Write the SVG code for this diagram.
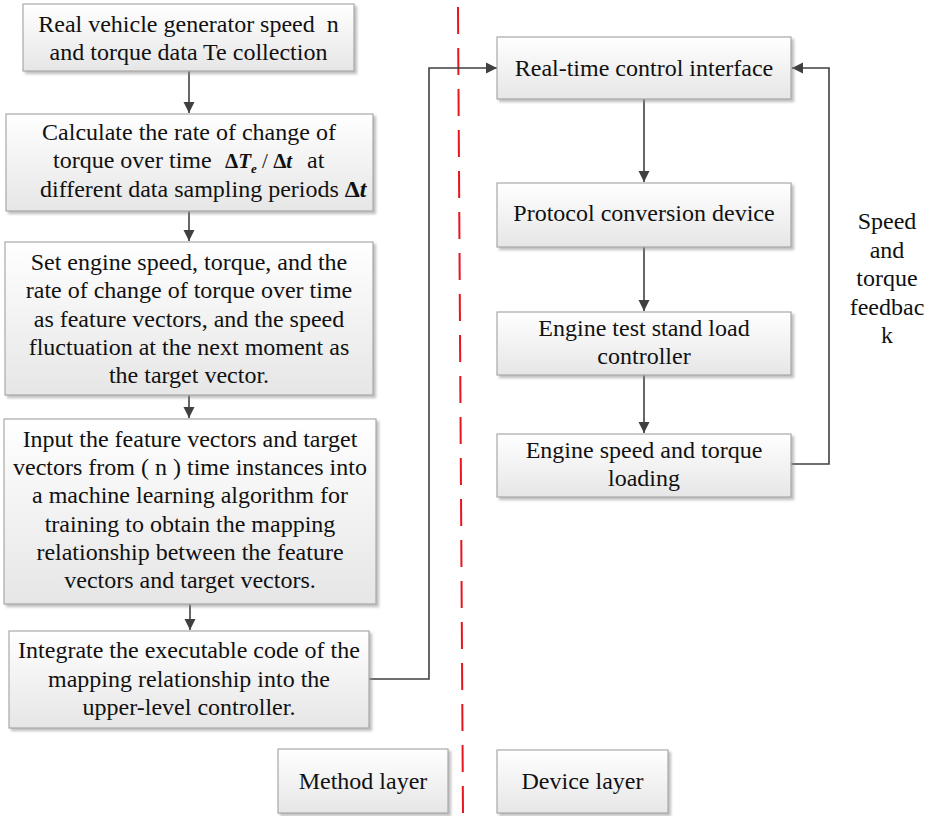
<svg xmlns="http://www.w3.org/2000/svg" width="931" height="816" viewBox="0 0 931 816">
  <defs>
    <linearGradient id="boxFill" x1="0" y1="0" x2="0" y2="1">
      <stop offset="0" stop-color="#ffffff"/>
      <stop offset="1" stop-color="#e6e6e6"/>
    </linearGradient>
    <filter id="shadow" x="-5%" y="-5%" width="115%" height="120%">
      <feDropShadow dx="2.5" dy="2.5" stdDeviation="1.2" flood-color="#8c8c8c" flood-opacity="0.55"/>
    </filter>
    <marker id="arrow" markerUnits="userSpaceOnUse" markerWidth="12" markerHeight="12" refX="11" refY="6" orient="auto">
      <path d="M0,0.5 L11,6 L0,11.5 Z" fill="#404040"/>
    </marker>
  </defs>
  <style>
    .box { fill: url(#boxFill); stroke: #a9a9a9; stroke-width: 1.2; filter: url(#shadow); }
    .t { font-family: "Liberation Serif", "Times New Roman", serif; font-size: 24px; fill: #111; text-anchor: middle; }
    .ts { font-family: "Liberation Serif", "Times New Roman", serif; font-size: 24px; fill: #111; }
    /* inline formula pieces */
    .m { font-weight: bold; font-size: 21px; }
    .mi { font-weight: bold; font-style: italic; font-size: 21px; }
    .sub { font-weight: bold; font-style: italic; font-size: 13px; }
    .op { font-size: 21px; }
    .M { font-weight: bold; }
    .MI { font-weight: bold; font-style: italic; }
    .conn { fill: none; stroke: #404040; stroke-width: 1.6; }
    .divider { stroke: #e8141e; stroke-width: 2; stroke-dasharray: 27 14; }
  </style>
  <rect width="931" height="816" fill="#ffffff"/>

  <!-- layer divider -->
  <line class="divider" x1="458" y1="7" x2="463" y2="816"/>

  <!-- connectors -->
  <g id="connectors">
    <line class="conn" x1="189" y1="71" x2="189" y2="113" marker-end="url(#arrow)"/>
    <line class="conn" x1="189" y1="211" x2="189" y2="241" marker-end="url(#arrow)"/>
    <line class="conn" x1="189" y1="395" x2="189" y2="418" marker-end="url(#arrow)"/>
    <line class="conn" x1="190" y1="604" x2="190" y2="630" marker-end="url(#arrow)"/>
    <polyline class="conn" points="369,679 429,679 429,68 497,68" marker-end="url(#arrow)"/>
    <line class="conn" x1="644" y1="99" x2="644" y2="182" marker-end="url(#arrow)"/>
    <line class="conn" x1="644" y1="247" x2="644" y2="311" marker-end="url(#arrow)"/>
    <line class="conn" x1="644" y1="375" x2="644" y2="433" marker-end="url(#arrow)"/>
    <polyline class="conn" points="791,464 829,464 829,68 792,68" marker-end="url(#arrow)"/>
  </g>

  <!-- method layer steps -->
  <g id="collect">
    <rect class="box" x="23" y="4" width="331" height="67"/>
    <text class="t" x="188.5" y="32" xml:space="preserve">Real vehicle generator speed  n</text>
    <text class="t" x="188.5" y="60">and torque data Te collection</text>
  </g>

  <g id="rate">
    <rect class="box" x="6" y="114" width="367" height="97"/>
    <text class="t" x="189" y="140">Calculate the rate of change of</text>
    <text class="ts" y="168"><tspan x="53">torque over time</tspan><tspan x="225" class="m">Δ</tspan><tspan class="mi">T</tspan><tspan class="sub" dy="5">e</tspan><tspan class="op" dy="-5"> / </tspan><tspan class="m">Δ</tspan><tspan class="mi">t</tspan><tspan x="307">at</tspan></text>
    <text class="ts" x="40" y="197">different data sampling periods <tspan class="M">Δ</tspan><tspan class="MI">t</tspan></text>
  </g>

  <g id="features">
    <rect class="box" x="5" y="242" width="368" height="153"/>
    <text class="t" x="189" y="270">Set engine speed, torque, and the</text>
    <text class="t" x="189" y="298">rate of change of torque over time</text>
    <text class="t" x="189" y="327">as feature vectors, and the speed</text>
    <text class="t" x="189" y="355">fluctuation at the next moment as</text>
    <text class="t" x="189" y="383">the target vector.</text>
  </g>

  <g id="training">
    <rect class="box" x="4" y="419" width="372" height="185"/>
    <text class="t" x="190" y="447">Input the feature vectors and target</text>
    <text class="t" x="190" y="475">vectors from ( n ) time instances into</text>
    <text class="t" x="190" y="503">a machine learning algorithm for</text>
    <text class="t" x="190" y="532">training to obtain the mapping</text>
    <text class="t" x="190" y="560">relationship between the feature</text>
    <text class="t" x="190" y="588">vectors and target vectors.</text>
  </g>

  <g id="integrate">
    <rect class="box" x="9" y="631" width="360" height="97"/>
    <text class="t" x="189" y="658">Integrate the executable code of the</text>
    <text class="t" x="189" y="687">mapping relationship into the</text>
    <text class="t" x="189" y="715">upper-level controller.</text>
  </g>

  <!-- device layer chain -->
  <g id="rt-interface">
    <rect class="box" x="497" y="37" width="294" height="62"/>
    <text class="t" x="644" y="76">Real-time control interface</text>
  </g>

  <g id="protocol">
    <rect class="box" x="497" y="183" width="294" height="64"/>
    <text class="t" x="644" y="221">Protocol conversion device</text>
  </g>

  <g id="load-controller">
    <rect class="box" x="497" y="312" width="294" height="63"/>
    <text class="t" x="644" y="336">Engine test stand load</text>
    <text class="t" x="644" y="364">controller</text>
  </g>

  <g id="loading">
    <rect class="box" x="497" y="434" width="294" height="63"/>
    <text class="t" x="644" y="458">Engine speed and torque</text>
    <text class="t" x="644" y="486">loading</text>
  </g>

  <g id="feedback-label">
    <text class="t" x="887" y="229">Speed</text>
    <text class="t" x="887" y="258">and</text>
    <text class="t" x="887" y="286">torque</text>
    <text class="t" x="887" y="315">feedbac</text>
    <text class="t" x="887" y="343">k</text>
  </g>

  <!-- layer captions -->
  <g id="method-layer">
    <rect class="box" x="278" y="749" width="170" height="64"/>
    <text class="t" x="363" y="789">Method layer</text>
  </g>

  <g id="device-layer">
    <rect class="box" x="497" y="750" width="171" height="63"/>
    <text class="t" x="582.5" y="789">Device layer</text>
  </g>
</svg>
